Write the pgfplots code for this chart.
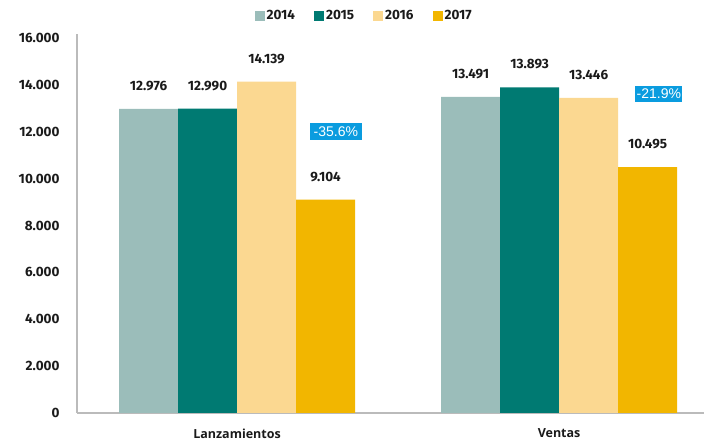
\documentclass[border=0pt]{standalone}
\usepackage{fontspec}
\setmainfont{Fira Sans}
\newfontfamily\catfont{Open Sans}
\newfontfamily\pctfont{Liberation Sans}
\usepackage{pgfplots}
\pgfplotsset{compat=1.18}

\definecolor{c2014}{HTML}{9BBDBA}
\definecolor{c2015}{HTML}{007A72}
\definecolor{c2016}{HTML}{FBD891}
\definecolor{c2017}{HTML}{F2B600}
\definecolor{axisgray}{HTML}{BBBBBB}
\definecolor{txt}{HTML}{1A1A1A}
\definecolor{pctblue}{HTML}{0A9CDF}

\begin{document}
\begin{tikzpicture}
\begin{axis}[
  scale only axis,
  width=627pt, height=379pt,
  xmin=-0.497, xmax=1.45,
  ymin=0, ymax=16171,
  ybar=0pt, bar width=59pt,
  axis x line=bottom, axis y line=left,
  axis line style={axisgray, line width=1.5pt, -},
  xtick={0,1}, xticklabels={Lanzamientos,Ventas},
  ytick={0,2000,...,16000},
  major tick length=0pt,
  scaled y ticks=false,
  /pgf/number format/.cd, 1000 sep={.}, fixed, assume math mode=true,
  /pgfplots/.cd,
  x tick label style={font=\catfont\bfseries\fontsize{12.5}{14}\selectfont, text=txt, yshift=-12pt},
  y tick label style={font=\bfseries\fontsize{13.5}{15}\selectfont, text=txt, xshift=-14pt},
  nodes near coords,
  every node near coord/.append style={font=\bfseries\fontsize{13.5}{15}\selectfont, text=txt, anchor=center, yshift=23pt},
  legend columns=4,
  legend style={draw=none, fill=none, at={(axis description cs:0.458,1.048)}, anchor=center,
    font=\bfseries\fontsize{13.5}{15}\selectfont, text=txt,
    /tikz/every even column/.append style={column sep=17pt}},
  legend image code/.code={\fill[#1,draw=none] (0pt,-5pt) rectangle (10pt,5pt);},
]
\addplot[fill=c2014, draw=none] coordinates {(0,12976) (1,13491)};
\addlegendentry{2014}
\addplot[fill=c2015, draw=none] coordinates {(0,12990) (1,13893)};
\addlegendentry{2015}
\addplot[fill=c2016, draw=none] coordinates {(0,14139) (1,13446)};
\addlegendentry{2016}
\addplot[fill=c2017, draw=none] coordinates {(0,9104) (1,10495)};
\addlegendentry{2017}

\node[fill=pctblue, text=white, font=\pctfont\fontsize{14}{15}\selectfont, minimum width=52pt, minimum height=17pt, inner sep=0pt] at (axis cs:0.307,11990) {-35.6\%};
\node[fill=pctblue, text=white, font=\pctfont\fontsize{14}{15}\selectfont, minimum width=47pt, minimum height=16pt, inner sep=0pt] at (axis cs:1.31,13611) {-21.9\%};
\end{axis}
\pgfresetboundingbox
\path (-77pt,-30pt) rectangle (627pt,413pt);
\end{tikzpicture}
\end{document}
